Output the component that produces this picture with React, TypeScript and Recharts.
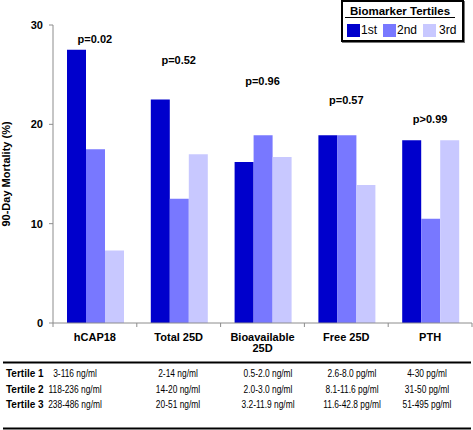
import { ComposedChart, Bar, Line, XAxis, YAxis, LabelList } from "recharts";

// Marcadores y mortalidad a 90 días por tertil
const categories = ["hCAP18", "Total 25D", "Bioavailable\n25D", "Free 25D", "PTH"];
const tertile1 = [27.5, 22.5, 16.2, 18.9, 18.4];
const tertile2 = [17.5, 12.5, 18.9, 18.9, 10.5];
const tertile3 = [7.3, 17.0, 16.7, 13.9, 18.4];
const pValues = ["p=0.02", "p=0.52", "p=0.96", "p=0.57", "p>0.99"];
// altura (en % del eje) donde va cada etiqueta de p
const pLabelLevel = [28.6, 26.5, 24.4, 22.5, 20.5];
const yTicks = [0, 10, 20, 30];

const tableRows = ["Tertile 1", "Tertile 2", "Tertile 3"];
const ranges1 = ["3-116 ng/ml", "2-14 ng/ml", "0.5-2.0 ng/ml", "2.6-8.0 pg/ml", "4-30 pg/ml"];
const ranges2 = ["118-236 ng/ml", "14-20 ng/ml", "2.0-3.0 ng/ml", "8.1-11.6 pg/ml", "31-50 pg/ml"];
const ranges3 = ["238-486 ng/ml", "20-51 ng/ml", "3.2-11.9 ng/ml", "11.6-42.8 pg/ml", "51-495 pg/ml"];

const C1 = "#0000cc";
const C2 = "#7878ff";
const C3 = "#c8c8ff";
const AXIS = "#8c8c8c";
const FONT = "Arial, 'Liberation Sans', sans-serif";

const PLOT_LEFT = 53;
const PLOT_RIGHT = 472;
const BAND = (PLOT_RIGHT - PLOT_LEFT) / categories.length;

const data = categories.map((name, i) => ({
  name,
  t1: tertile1[i],
  t2: tertile2[i],
  t3: tertile3[i],
  pPos: pLabelLevel[i],
  pText: pValues[i],
}));

function CategoryTick(props: any) {
  const { x, y, payload, index } = props;
  const lines = String(payload.value).split("\n");
  return (
    <g>
      {index === 0 && <line x1={x - BAND / 2} x2={x - BAND / 2} y1={y} y2={y + 4} stroke={AXIS} />}
      <line x1={x + BAND / 2} x2={x + BAND / 2} y1={y} y2={y + 4} stroke={AXIS} />
      <text x={x} y={y + 18} textAnchor="middle" fontFamily={FONT} fontWeight="bold" fontSize={11} fill="#000">
        {lines.map((l, k) => (
          <tspan key={k} x={x} dy={k === 0 ? 0 : 11}>
            {l}
          </tspan>
        ))}
      </text>
    </g>
  );
}

function PLabel(props: any) {
  const { x, y, value } = props;
  return (
    <text x={x} y={y + 4} textAnchor="middle" fontFamily={FONT} fontWeight="bold" fontSize={11} fill="#000">
      {value}
    </text>
  );
}

function LegendSwatch({ color, label, gap }: { color: string; label: string; gap: number }) {
  return (
    <span style={{ display: "inline-flex", alignItems: "center" }}>
      <span style={{ width: 13, height: 13, background: color, display: "inline-block", marginRight: gap }} />
      <span style={{ fontSize: 12 }}>{label}</span>
    </span>
  );
}

export default function App() {
  const cols = [75, 178, 268, 352, 427];
  const rowsY = [373, 389, 404];
  const allRanges = [ranges1, ranges2, ranges3];
  return (
    <div style={{ position: "absolute", left: 0, top: 0, width: 473, height: 430, background: "#fff", fontFamily: FONT }}>
      <ComposedChart
        width={473}
        height={360}
        data={data}
        margin={{ top: 25, right: 1, left: 0, bottom: 0 }}
        barCategoryGap={14}
        barGap={0}
      >
        <XAxis
          dataKey="name"
          axisLine={{ stroke: AXIS }}
          tickLine={false}
          tickSize={0}
          tickMargin={0}
          height={37}
          interval={0}
          tick={<CategoryTick />}
        />
        <YAxis
          domain={[0, 30]}
          ticks={yTicks}
          width={53}
          axisLine={{ stroke: AXIS }}
          tickLine={{ stroke: AXIS }}
          tickSize={4}
          tickMargin={6}
          tick={{ fontFamily: FONT, fontWeight: "bold", fontSize: 11, fill: "#000" }}
          label={{
            content: () => (
              <text
                transform="translate(10,174) rotate(-90)"
                textAnchor="middle"
                fontFamily={FONT}
                fontWeight="bold"
                fontSize={11}
                fill="#000"
              >
                90-Day Mortality (%)
              </text>
            ),
          }}
        />
        <Bar dataKey="t1" fill={C1} isAnimationActive={false} />
        <Bar dataKey="t2" fill={C2} isAnimationActive={false} />
        <Bar dataKey="t3" fill={C3} isAnimationActive={false} />
        <Line
          dataKey="pPos"
          stroke="none"
          dot={false}
          activeDot={false}
          legendType="none"
          isAnimationActive={false}
        >
          <LabelList dataKey="pText" content={<PLabel />} />
        </Line>
      </ComposedChart>

      {/* Leyenda */}
      <div
        style={{
          position: "absolute",
          left: 341,
          top: 0,
          width: 119,
          height: 38,
          border: "2px solid #000",
          boxShadow: "1px 1px 0 #777",
          background: "#fff",
        }}
      >
        <div
          style={{
            position: "absolute",
            left: 2,
            top: 3,
            width: 110,
            textAlign: "center",
            fontWeight: "bold",
            fontSize: 11.5,
            lineHeight: "12px",
            borderBottom: "1.5px solid #000",
          }}
        >
          Biomarker Tertiles
        </div>
        <div style={{ position: "absolute", left: 4, top: 21, display: "flex", gap: 6 }}>
          <LegendSwatch color={C1} label="1st" gap={1} />
          <LegendSwatch color={C2} label="2nd" gap={1} />
          <LegendSwatch color={C3} label="3rd" gap={3} />
        </div>
      </div>

      {/* Tabla de rangos (texto estrecho como en el original) */}
      <svg width={473} height={70} style={{ position: "absolute", left: 0, top: 360 }}>
        <line x1={3} x2={471} y1={2.5} y2={2.5} stroke="#000" strokeWidth={2} />
        <line x1={3} x2={471} y1={68.5} y2={68.5} stroke="#000" strokeWidth={2} />
        {tableRows.map((r, ri) => (
          <g key={r}>
            <text x={6} y={rowsY[ri] - 360 + 4} fontFamily={FONT} fontWeight="bold" fontSize={10} fill="#000">
              {r}
            </text>
            {allRanges[ri].map((v, ci) => (
              <g key={ci} transform={`translate(${cols[ci]},${rowsY[ri] - 360 + 4}) scale(0.84,1)`}>
                <text x={0} y={0} textAnchor="middle" fontFamily={FONT} fontSize={10} fill="#000">
                  {v}
                </text>
              </g>
            ))}
          </g>
        ))}
      </svg>
    </div>
  );
}
